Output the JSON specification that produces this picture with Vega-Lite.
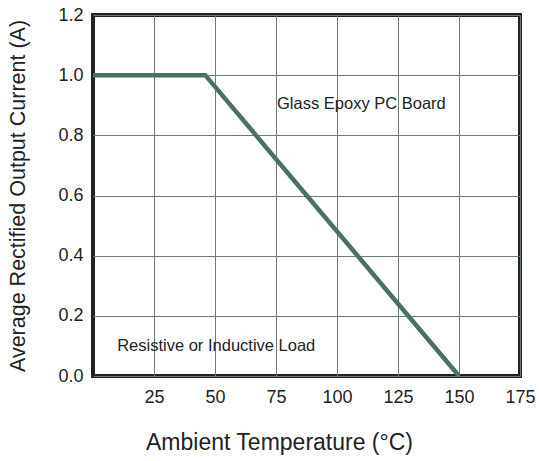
{
  "$schema": "https://vega.github.io/schema/vega-lite/v6.json",
  "autosize": "none",
  "width": 427,
  "height": 361,
  "padding": {"left": 93, "top": 15, "right": 19, "bottom": 85},
  "background": "white",
  "config": {
    "view": {"stroke": "#222222", "strokeWidth": 4},
    "font": "Liberation Sans"
  },
  "layer": [
    {
      "data": {"values": [
        {"temp": 0, "current": 1.0},
        {"temp": 46, "current": 1.0},
        {"temp": 150, "current": 0.0}
      ]},
      "mark": {"type": "line", "color": "#4b6f69", "strokeWidth": 4.5},
      "encoding": {
        "x": {"field": "temp", "type": "quantitative",
          "scale": {"domain": [0, 175], "nice": false, "zero": false},
          "axis": {"values": [25, 50, 75, 100, 125, 150, 175], "title": "Ambient Temperature (°C)",
            "domain": false, "ticks": false, "grid": true, "gridColor": "#6e7a76", "gridWidth": 1, "gridOpacity": 1,
            "labelFontSize": 18, "labelColor": "#222", "labelPadding": 12, "labelFlush": false,
            "titleFontSize": 23, "titleFontWeight": "normal", "titleColor": "#222", "titlePadding": 25,
            "titleX": 186, "titleAnchor": "start", "titleAlign": "center"}},
        "y": {"field": "current", "type": "quantitative",
          "scale": {"domain": [0, 1.2], "nice": false},
          "axis": {"values": [0, 0.2, 0.4, 0.6, 0.8, 1.0, 1.2], "format": ".1f", "title": "Average Rectified Output Current (A)",
            "domain": false, "ticks": false, "grid": true, "gridColor": "#6e7a76", "gridWidth": 1, "gridOpacity": 1,
            "labelFontSize": 18, "labelColor": "#222", "labelPadding": 10, "labelFlush": false,
            "titleFontSize": 21.5, "titleFontWeight": "normal", "titleColor": "#222", "titlePadding": 28}}
      }
    },
    {
      "data": {"values": [
        {"temp": 110, "current": 0.905, "label": "Glass Epoxy  PC  Board"},
        {"temp": 50.5, "current": 0.1, "label": "Resistive or Inductive Load"}
      ]},
      "mark": {"type": "text", "fontSize": 16.5, "color": "#222", "align": "center", "baseline": "middle"},
      "encoding": {
        "x": {"field": "temp", "type": "quantitative"},
        "y": {"field": "current", "type": "quantitative"},
        "text": {"field": "label"}
      }
    }
  ]
}
